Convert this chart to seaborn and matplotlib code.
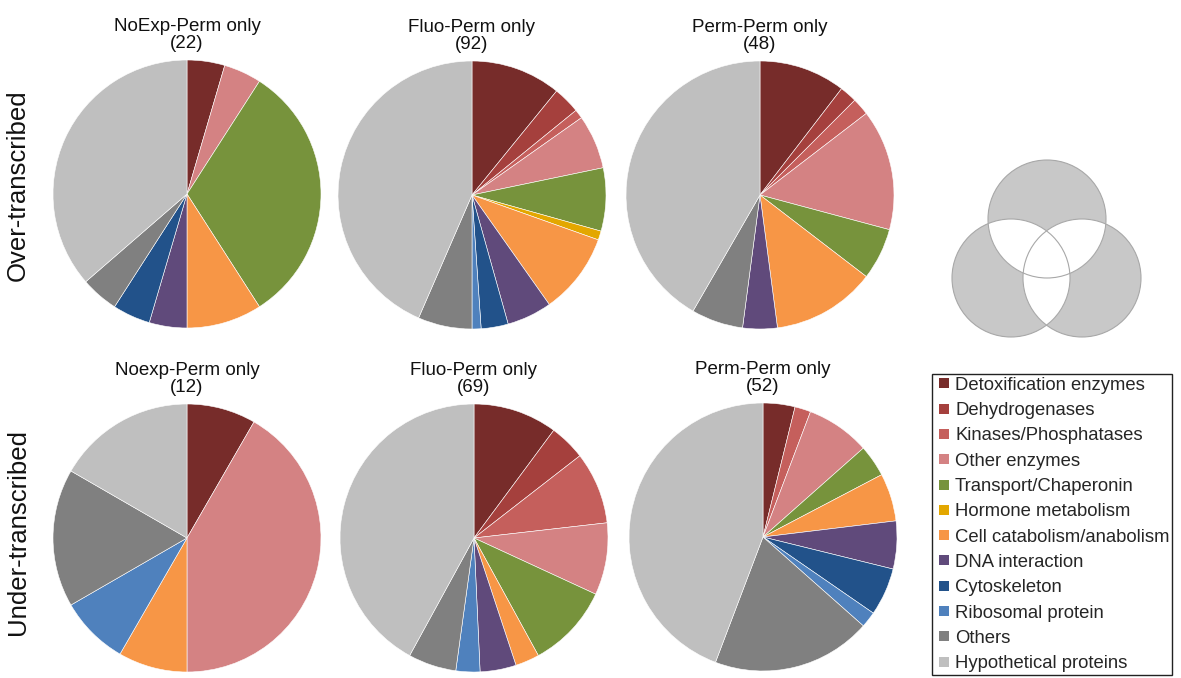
"""
Functional categories of over- and under-transcribed genes, shown as pies.
"""

import matplotlib
matplotlib.use("Agg")
import matplotlib.pyplot as plt
from matplotlib.lines import Line2D
from matplotlib.patches import Circle
import seaborn as sns

categories = ['Detoxification enzymes', 'Dehydrogenases', 'Kinases/Phosphatases',
              'Other enzymes', 'Transport/Chaperonin', 'Hormone metabolism',
              'Cell catabolism/anabolism', 'DNA interaction', 'Cytoskeleton',
              'Ribosomal protein', 'Others', 'Hypothetical proteins']
category_colors = ['#772C2A', '#A5403D', '#C55F5C', '#D48283', '#77933C', '#E3A700',
                   '#F79646', '#604A7B', '#22528A', '#4F81BD', '#808080', '#BFBFBF']

# gene counts per category (same order as categories)
noexp_over = [1, 0, 0, 1, 7, 0, 2, 1, 1, 0, 1, 8]
fluo_over = [10, 3, 1, 6, 7, 1, 9, 5, 3, 1, 6, 40]
perm_over = [5, 1, 1, 7, 3, 0, 6, 2, 0, 0, 3, 20]
noexp_under = [1, 0, 0, 5, 0, 0, 1, 0, 0, 1, 2, 2]
fluo_under = [7, 3, 6, 6, 7, 0, 2, 3, 0, 2, 4, 29]
perm_under = [2, 0, 1, 4, 2, 0, 3, 3, 3, 1, 10, 23]

pie_titles = ['NoExp-Perm only', 'Fluo-Perm only', 'Perm-Perm only',
              'Noexp-Perm only', 'Fluo-Perm only', 'Perm-Perm only']
row_labels = ['Over-transcribed', 'Under-transcribed']

W, H = 1181, 678


def px_axes(fig, x0, y0, w, h):
    # axes from pixel box (top-left origin)
    return fig.add_axes([x0 / W, 1 - (y0 + h) / H, w / W, h / H])


def main():
    sns.set_theme(style='white')
    plt.rcParams['font.family'] = ['Liberation Sans', 'DejaVu Sans']
    palette = sns.color_palette(category_colors)

    fig = plt.figure(figsize=(W / 100, H / 100), dpi=100)

    series = [noexp_over, fluo_over, perm_over, noexp_under, fluo_under, perm_under]
    centers = [(187, 194), (472, 195), (760, 195), (187, 538), (474, 538), (763, 537)]
    R = 134

    for vals, title, (cx, cy) in zip(series, pie_titles, centers):
        ax = px_axes(fig, cx - R, cy - R, 2 * R, 2 * R)
        keep = [i for i, v in enumerate(vals) if v > 0]
        ax.pie([vals[i] for i in keep], colors=[palette[i] for i in keep],
               startangle=90, counterclock=False, radius=1,
               wedgeprops=dict(edgecolor='white', linewidth=0.4))
        ax.set_xlim(-1, 1)
        ax.set_ylim(-1, 1)
        ax.axis('off')
        fig.text(cx / W, 1 - (cy - R - 8) / H, f'{title}\n({sum(vals)})',
                 ha='center', va='bottom', fontsize=13.5, linespacing=1.0,
                 color='#111111')

    for label, y in zip(row_labels, [185, 532]):
        fig.text(18 / W, 1 - y / H, label, rotation=90, ha='center', va='center',
                 fontsize=18.5, color='#111111')

    # Venn diagram symbol: grey where only one set, white in overlaps
    vax = px_axes(fig, 920, 150, 261, 200)
    vax.set_xlim(920, 1181)
    vax.set_ylim(350, 150)
    vax.axis('off')
    venn = [(1047, 219, 59), (1011, 278, 59), (1082, 278, 59)]
    shapes = []
    for x, y, r in venn:
        c = Circle((x, y), r, facecolor='#C8C8C8', edgecolor='none')
        vax.add_patch(c)
        shapes.append(c)
    for i in range(3):
        for j in range(3):
            if i != j:
                x, y, r = venn[j]
                w = Circle((x, y), r, facecolor='white', edgecolor='none')
                vax.add_patch(w)
                w.set_clip_path(shapes[i])
    for x, y, r in venn:
        vax.add_patch(Circle((x, y), r, facecolor='none', edgecolor='#A8A8A8',
                             linewidth=0.8))

    handles = [Line2D([], [], linestyle='none', marker='s', markersize=6.8,
                      markerfacecolor=palette[i], markeredgewidth=0)
               for i in range(len(categories))]
    leg = fig.legend(handles, categories, loc='upper left',
                     bbox_to_anchor=(932 / W, 1 - 374 / H), fontsize=13.3,
                     frameon=True, fancybox=False, framealpha=1,
                     handlelength=1.0, handletextpad=0.1,
                     labelspacing=0.45, borderpad=0.15, borderaxespad=0)
    leg.get_frame().set_edgecolor('#222222')
    leg.get_frame().set_linewidth(1.0)

    plt.savefig('out.png', dpi=100)


if __name__ == '__main__':
    main()
